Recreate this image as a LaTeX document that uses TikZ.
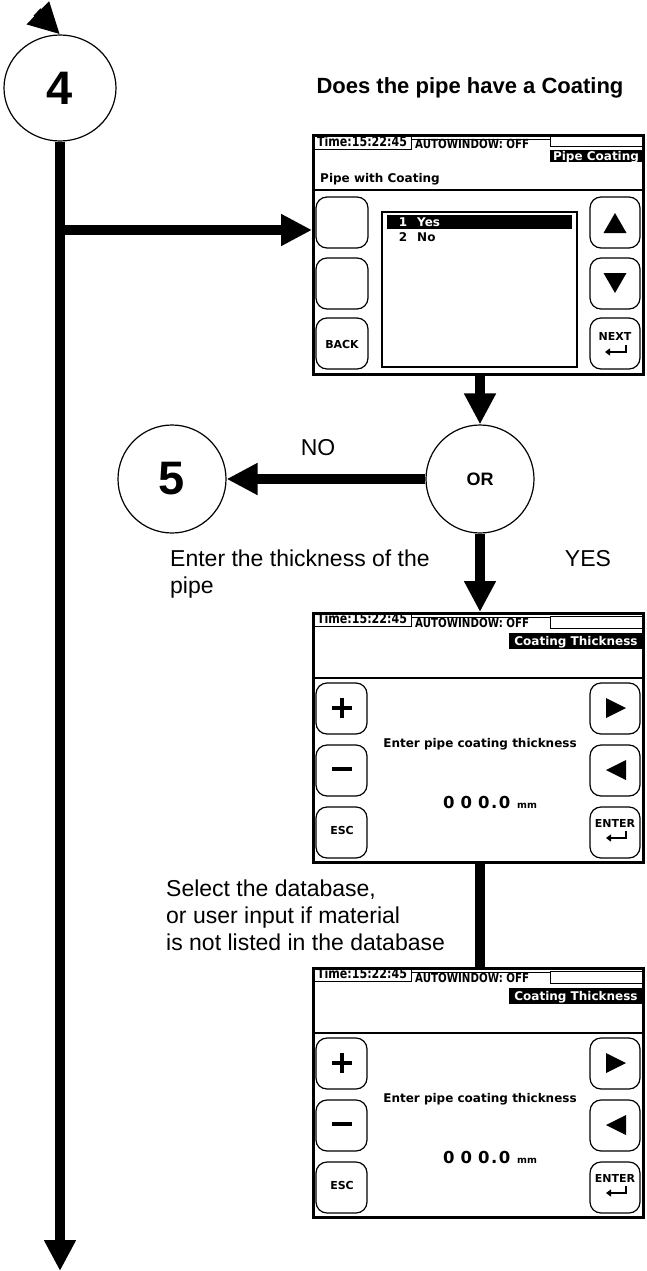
\documentclass[tikz,border=0pt]{standalone}
\usepackage{fontspec}
\setmainfont{Liberation Sans}
\newfontfamily\lcd{DejaVu Sans Bold}
\newfontfamily\lcdcaps[FakeStretch=0.82]{DejaVu Sans Bold}
\usetikzlibrary{arrows.meta,shapes.geometric}
\tikzset{
  flow/.style={line width=10pt},
  flowarrow/.style={line width=10pt, -{Triangle[length=31pt,width=30pt]}},
  stepnode/.style={circle, draw, line width=1.2pt, minimum size=108pt, inner sep=0pt, font=\bfseries\fontsize{47}{47}\selectfont},
  lcdscreen/.style={draw, line width=3pt, minimum width=330pt, inner sep=0pt},
  keybtn/.style={draw, line width=1.2pt, rounded corners=11pt},
  hairline/.style={line width=0.8pt},
  lcdtext/.style={inner sep=0pt, text height=8.7pt, text depth=0pt, font=\lcd\fontsize{12}{12}\selectfont},
  lcdcapstext/.style={inner sep=0pt, text height=8.7pt, text depth=0pt, font=\lcdcaps\fontsize{12.5}{12.5}\selectfont},
  keytext/.style={inner sep=0pt, text height=8pt, text depth=0pt, font=\lcd\fontsize{11}{11}\selectfont},
  remark/.style={inner sep=0pt, align=left, font=\fontsize{23}{27}\selectfont},
}
\newcommand\lcdvalue{0\hspace{6pt}0\hspace{6pt}0\hspace{1.5pt}.\hspace{1.5pt}0}
\begin{document}
\begin{tikzpicture}[x=1pt, y=-1pt]
\useasboundingbox (0,0) rectangle (647,1271);

% flow chart
\node[ellipse, draw, line width=1.2pt, minimum width=112pt, minimum height=106pt, inner sep=0pt, font=\bfseries\fontsize{47}{47}\selectfont] (4) at (60,88) {4};
\node[stepnode] (5) at (172,479) {5};
\node[stepnode, font=\bfseries\fontsize{18}{18}\selectfont] (or) at (480,479) {OR};
\node[lcdscreen, minimum height=239pt] (s1) at (478.5,255) {};
\node[lcdscreen, minimum height=249pt] (s2) at (478.5,738) {};
\node[lcdscreen, minimum height=249pt] (s3) at (478.5,1093) {};
\coordinate (in4) at (37,12);
\coordinate (j4) at (60,230);
\coordinate (out4) at (60,1271);

\draw[flowarrow] (in4) -- (4.north);
\draw[flowarrow] (4.south) -- (out4);
\draw[flowarrow] (j4) -- (s1.west |- j4);
\draw[flowarrow] (s1.south -| or) -- (or.north);
\draw[flowarrow] (or.west) -- (5.east);
\draw[flowarrow] (or.south) -- (s2.north -| or);
\draw[flow] (s2.south -| or) -- (s3.north -| or);

\node[inner sep=0pt, font=\bfseries\fontsize{22}{22}\selectfont] (ask) at (470,88) {Does the pipe have a Coating};
\node[remark] (no) at (318,448) {NO};
\node[remark] (yes) at (588,559) {YES};
\node[remark, anchor=north west] (thick) at (170,550) {Enter the thickness of the\\pipe};
\node[remark, anchor=north west] (dbase) at (166,880) {Select the database,\\or user input if material\\is not listed in the database};

% screen 1
\begin{scope}[shift={(312,134)}]
  \draw[hairline] (1,1) rectangle (99,15);
  \node[lcdcapstext, font=\lcdcaps\fontsize{13.5}{13.5}\selectfont] (time1) at (50,8) {Time:15:22:45};
  \draw[hairline] (99,5) -- (238,5);
  \node[lcdcapstext, anchor=west] (auto1) at (103,10.5) {AUTOWINDOW: OFF};
  \draw[hairline] (238,2) rectangle (330,12);
  \fill (238,16) rectangle (330,28);
  \node[lcdtext, white] (mode1) at (284,22) {Pipe Coating};
  \node[lcdtext, anchor=west] (ask1) at (8,44) {Pipe with Coating};
  \draw[line width=1.5pt] (0,56) -- (333,56);
  \foreach \y in {63,124,184} {
    \draw[keybtn] (4,\y) rectangle (56,\y+51);
    \draw[keybtn] (278,\y) rectangle (328,\y+51);
  }
  \draw[line width=1.2pt] (70,78) rectangle (265,233);
  \fill (75,81) rectangle (260,95);
  \node[lcdtext, white] (n1) at (91,88) {1};
  \node[lcdtext, white, anchor=west] (yes1) at (105,88) {Yes};
  \node[lcdtext] (n2) at (91,103) {2};
  \node[lcdtext, anchor=west] (no1) at (105,103) {No};
  \fill (303,79) -- (314.5,99) -- (291.5,99) -- cycle;
  \fill (291.5,139) -- (314.5,139) -- (303,159) -- cycle;
  \node[keytext] (back1) at (30,210) {BACK};
  \node[keytext] (next1) at (303,202) {NEXT};
  \draw[line width=2pt, -{Triangle[length=5pt,width=7pt]}] (314,211) -- (314,218) -- (293,218);
\end{scope}

% screens 2 and 3
\foreach \sy/\k in {612/2,967/3} {
  \begin{scope}[shift={(312,\sy)}]
    \draw[hairline] (1,0.5) rectangle (99,14.5);
    \node[lcdcapstext, font=\lcdcaps\fontsize{13.5}{13.5}\selectfont] (time\k) at (50,7.5) {Time:15:22:45};
    \draw[hairline] (99,5) -- (238,5);
    \node[lcdcapstext, anchor=west] (auto\k) at (103,11) {AUTOWINDOW: OFF};
    \draw[hairline] (238,4) rectangle (330,16);
    \fill (197,21) rectangle (330,37);
    \node[lcdtext, white] (mode\k) at (264,29) {Coating Thickness};
    \draw[line width=1.5pt] (0,66) -- (333,66);
    \foreach \y in {71,133,195} {
      \draw[keybtn] (4,\y) rectangle (55,\y+51);
      \draw[keybtn] (278,\y) rectangle (328,\y+51);
    }
    \draw[line width=3.5pt] (20,96) -- (40,96) (30,86) -- (30,106);
    \draw[line width=3.5pt] (20,157) -- (40,157);
    \node[keytext] (esc\k) at (30,218) {ESC};
    \fill (294,86) -- (314,96) -- (294,106) -- cycle;
    \fill (314,148) -- (294,158) -- (314,168) -- cycle;
    \node[keytext] (enter\k) at (303,211) {ENTER};
    \draw[line width=2pt, -{Triangle[length=5pt,width=7pt]}] (314,219) -- (314,226) -- (294,226);
    \node[lcdtext] (prompt\k) at (168,131) {Enter pipe coating thickness};
    \node[inner sep=0pt, anchor=base west, font=\lcd\fontsize{16.5}{16.5}\selectfont] (val\k) at (131,196) {\lcdvalue};
    \node[inner sep=0pt, anchor=base west, font=\lcd\fontsize{9.5}{9.5}\selectfont] (unit\k) at (205,196) {mm};
  \end{scope}
}
\end{tikzpicture}
\end{document}
